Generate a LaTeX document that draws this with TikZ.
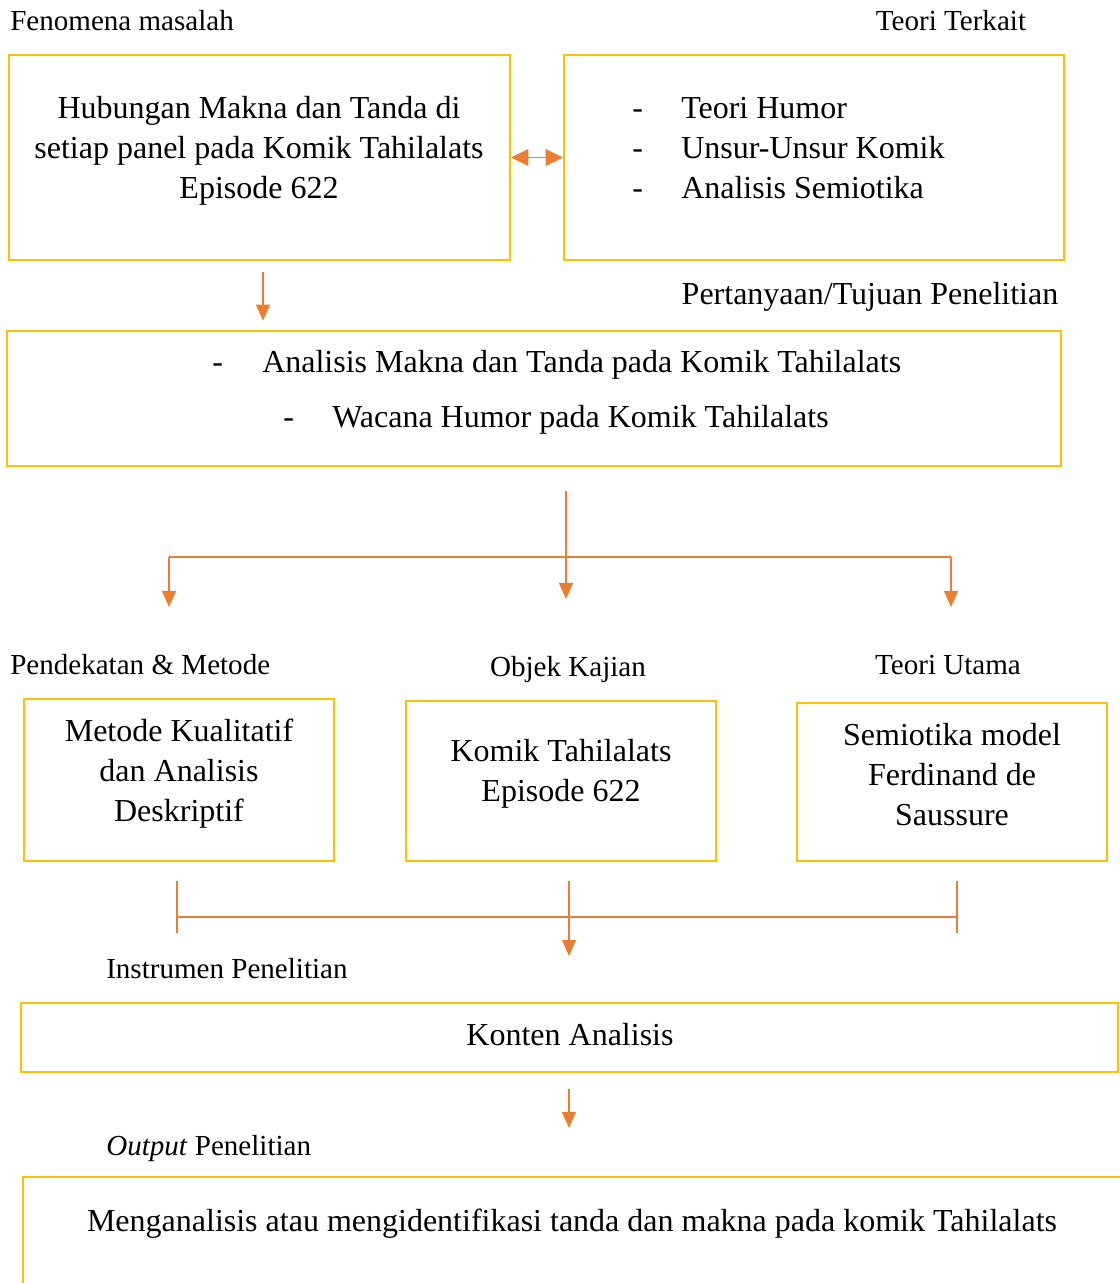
\documentclass[tikz,border=0pt]{standalone}
\usepackage{fontspec}
\setmainfont{Liberation Serif}
\usepackage{xcolor}
\definecolor{emas}  {HTML}{FFC000}
\definecolor{oranye}{HTML}{ED7D31}
\usetikzlibrary{arrows.meta,fit}

\begin{document}
\begin{tikzpicture}[x=0.75pt, y=-0.75pt,
  font=\fontsize{24}{30}\selectfont,
  kotak/.style={draw=emas, line width=1.6pt, inner sep=0pt},
  judul/.style={font=\fontsize{21.8}{26}\selectfont, inner sep=0pt},
  isi/.style={align=center, inner sep=0pt},
  garis/.style={draw=oranye, line width=0.8pt},
  panah/.style={garis, -{Triangle[length=12pt, width=10.5pt]}},
  panahdua/.style={garis, {Triangle[length=13pt, width=12.5pt]}-{Triangle[length=13pt, width=12.5pt]}}]
  \useasboundingbox (0,0) rectangle (1120,1283);
  \clip (0,0) rectangle (1120,1283);
  % Fenomena dan teori terkait
  \node[judul, anchor=west] (lfenomena) at (10,21) {Fenomena masalah};
  \node[judul] (lteori) at (951,21) {Teori Terkait};
  \node[kotak, fit={(9,55) (510,260)}] (fenomena) {};
  \node[kotak, fit={(564,55) (1064,260)}] (teori) {};
  \node[isi] (tfenomena) at (259,151) {Hubungan Makna dan Tanda di\\setiap panel pada Komik Tahilalats\\Episode 622};
  \node[isi, align=left, anchor=west] (tteori) at (632,148) {\makebox[36.75pt][l]{-}Teori Humor\\\makebox[36.75pt][l]{-}Unsur-Unsur Komik\\\makebox[36.75pt][l]{-}Analisis Semiotika};
  % Pertanyaan
  \node[judul, font=\fontsize{24}{28}\selectfont] (ltanya) at (870,297) {Pertanyaan/Tujuan Penelitian};
  \node[kotak, fit={(7,331) (1061,466)}] (tanya) {};
  \node[isi, anchor=west] (ttanya1) at (212,365) {\makebox[37.5pt][l]{-}Analisis Makna dan Tanda pada Komik Tahilalats};
  \node[isi, anchor=west] (ttanya2) at (283,420) {\makebox[36.75pt][l]{-}Wacana Humor pada Komik Tahilalats};
  % Pendekatan, objek, teori utama
  \node[judul, anchor=west] (lmetode) at (10,665) {Pendekatan \& Metode};
  \node[judul] (lobjek) at (568,669) {Objek Kajian};
  \node[judul] (lutama) at (948,665) {Teori Utama};
  \node[kotak, fit={(24,699) (334,861)}] (metode) {};
  \node[kotak, fit={(406,701) (716,861)}] (objek) {};
  \node[kotak, fit={(797,703) (1107,861)}] (utama) {};
  \node[isi] (tmetode) at (179,774) {Metode Kualitatif\\dan Analisis\\Deskriptif};
  \node[isi] (tobjek) at (561,774) {Komik Tahilalats\\Episode 622};
  \node[isi] (tutama) at (952,775) {Semiotika model\\Ferdinand de\\Saussure};
  % Instrumen dan output
  \node[judul, anchor=west] (linstrumen) at (106,969) {Instrumen Penelitian};
  \node[kotak, fit={(21,1003) (1118,1072)}] (instrumen) {};
  \node[isi] (tinstrumen) at (570,1035) {Konten Analisis};
  \node[judul, anchor=west] (lhasil) at (106,1148) {\textit{Output} Penelitian};
  \node[kotak, fit={(23,1177) (1300,1400)}] (hasil) {};
  \node[isi] (thasil) at (572,1224) {Menganalisis atau mengidentifikasi tanda dan makna pada komik Tahilalats};
  % Penghubung
  \coordinate (cabang) at (566,557);
  \coordinate (cabangkiri) at (169,557);
  \coordinate (cabangkanan) at (951,557);
  \coordinate (gabung) at (569,917);
  \coordinate (gabungkiri) at (177,917);
  \coordinate (gabungkanan) at (957,917);
  \draw[panahdua] (fenomena.east) -- (teori.west);
  \draw[panah, shorten <=8pt, shorten >=7pt] ([xshift=2.6pt]fenomena.south) -- ([xshift=2.6pt]fenomena.south |- tanya.north);
  \draw[garis, shorten <=18pt, shorten >=-8pt] (tanya.south -| cabang) -- (cabang);
  \draw[garis] (cabangkiri) -- (cabangkanan);
  \draw[panah, shorten >=68.25pt] (cabangkiri) -- (cabangkiri |- metode.north);
  \draw[panah, shorten >=75.75pt] (cabang) -- (cabang |- objek.north);
  \draw[panah, shorten >=71.25pt] (cabangkanan) -- (cabangkanan |- utama.north);
  \draw[garis] (gabungkiri) -- (gabungkanan);
  \draw[garis, shorten <=14.25pt, shorten >=-12pt] (metode.south -| gabungkiri) -- (gabungkiri);
  \draw[garis, shorten <=14.25pt, shorten >=-12pt] (utama.south -| gabungkanan) -- (gabungkanan);
  \draw[panah, shorten <=14.25pt, shorten >=34.5pt] (objek.south -| gabung) -- (gabung |- instrumen.north);
  \draw[panah, shorten <=12pt, shorten >=36pt] (instrumen.south -| gabung) -- (gabung |- hasil.north);
\end{tikzpicture}
\end{document}
